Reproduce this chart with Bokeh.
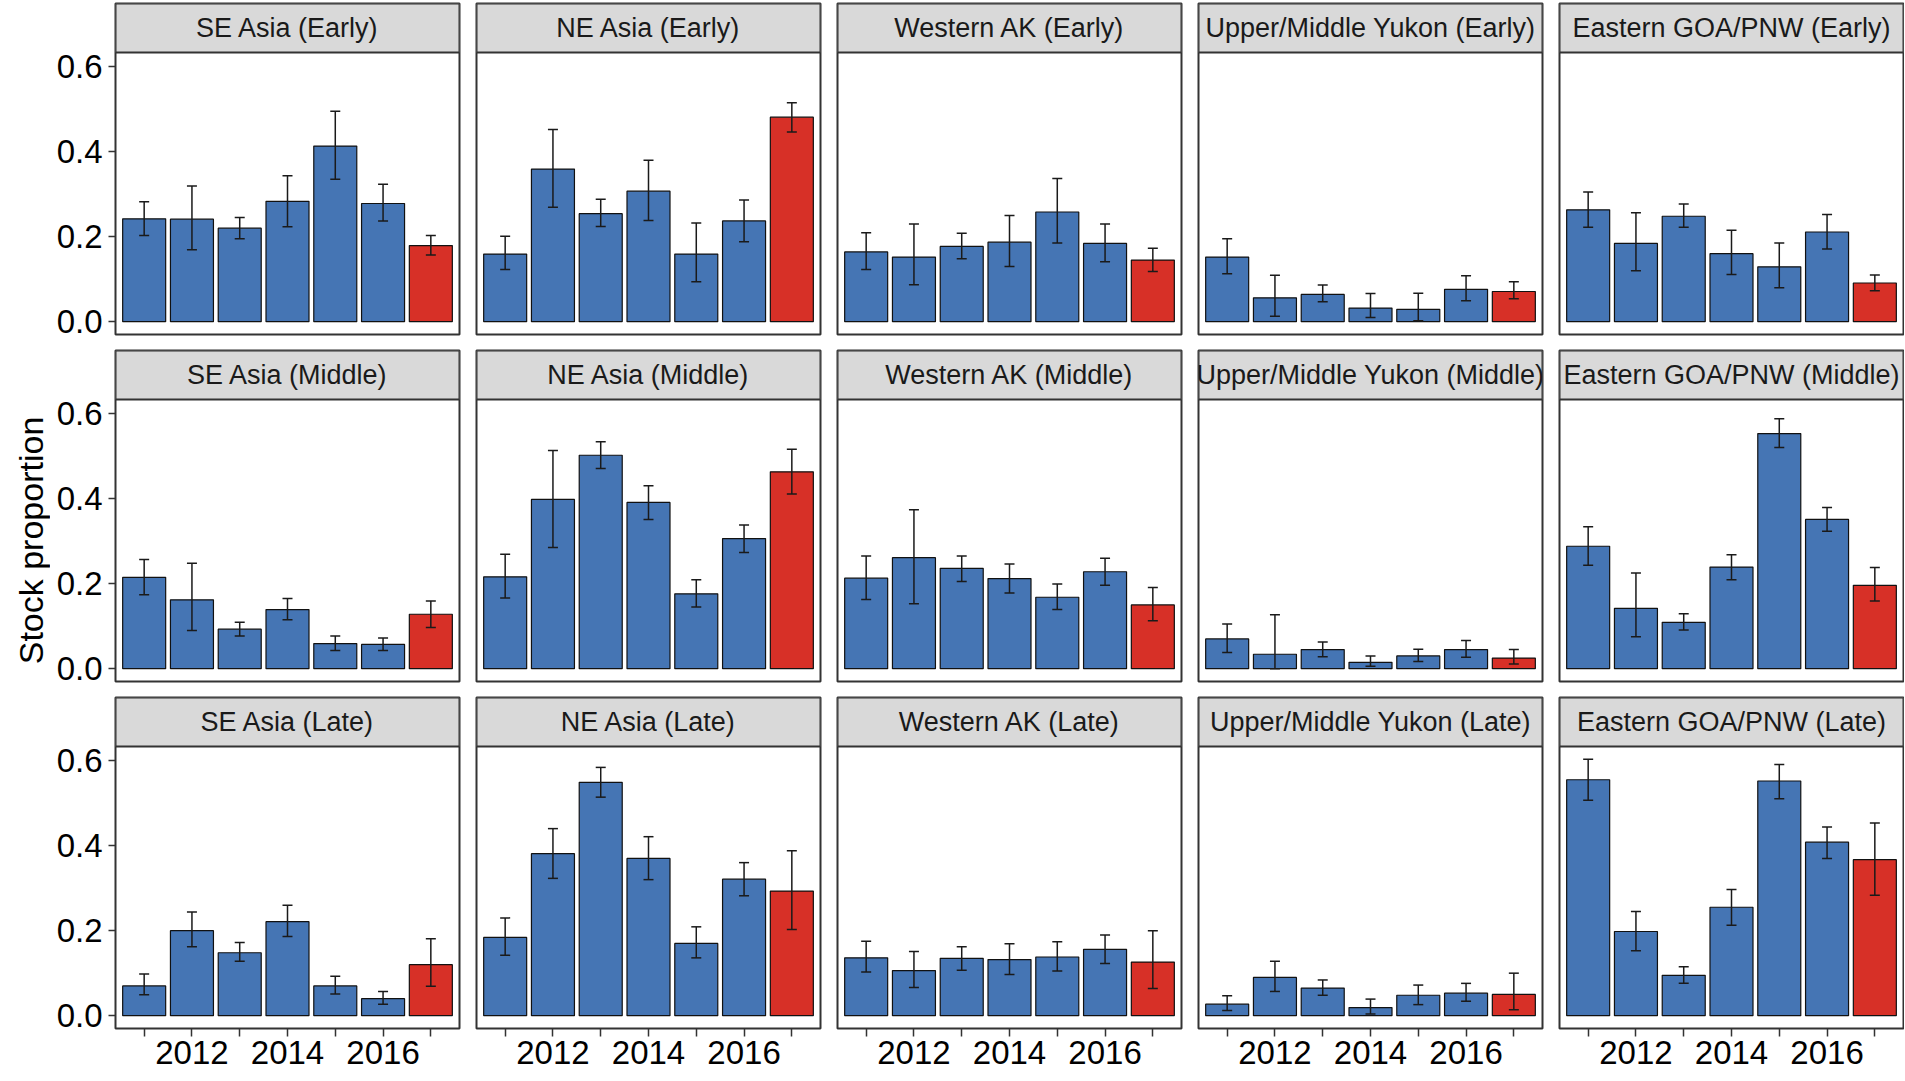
from math import pi
from bokeh.plotting import figure
from bokeh.layouts import row, column
from bokeh.models import (Range1d, FixedTicker, PrintfTickFormatter, BoxAnnotation, Label,
                          ColumnDataSource, Whisker, TeeHead)
from bokeh.embed import file_html
from bokeh.resources import INLINE

# ---------------- data ----------------
years = [2011, 2012, 2013, 2014, 2015, 2016, 2017]
highlight_year = 2017
regions = ["SE Asia", "NE Asia", "Western AK", "Upper/Middle Yukon", "Eastern GOA/PNW"]
periods = ["Early", "Middle", "Late"]
y_ticks = [0.0, 0.2, 0.4, 0.6]
x_major_ticks = [2012, 2014, 2016]
x_minor_ticks = [2011, 2013, 2015, 2017]
y_title = "Stock proportion"

se_asia_early_est = [0.242, 0.241, 0.220, 0.283, 0.413, 0.278, 0.179]
se_asia_early_lo = [0.203, 0.169, 0.195, 0.223, 0.335, 0.237, 0.157]
se_asia_early_hi = [0.282, 0.319, 0.245, 0.343, 0.495, 0.323, 0.203]
ne_asia_early_est = [0.159, 0.359, 0.254, 0.307, 0.159, 0.237, 0.481]
ne_asia_early_lo = [0.123, 0.269, 0.224, 0.238, 0.094, 0.188, 0.446]
ne_asia_early_hi = [0.201, 0.452, 0.288, 0.380, 0.232, 0.286, 0.515]
western_ak_early_est = [0.164, 0.152, 0.177, 0.187, 0.258, 0.184, 0.145]
western_ak_early_lo = [0.123, 0.087, 0.148, 0.130, 0.185, 0.141, 0.118]
western_ak_early_hi = [0.209, 0.230, 0.208, 0.250, 0.337, 0.230, 0.173]
yukon_early_est = [0.152, 0.056, 0.064, 0.032, 0.029, 0.076, 0.071]
yukon_early_lo = [0.113, 0.013, 0.047, 0.010, 0.002, 0.049, 0.054]
yukon_early_hi = [0.195, 0.109, 0.086, 0.066, 0.067, 0.108, 0.094]
goa_early_est = [0.263, 0.184, 0.248, 0.160, 0.129, 0.211, 0.091]
goa_early_lo = [0.222, 0.120, 0.222, 0.111, 0.080, 0.171, 0.073]
goa_early_hi = [0.305, 0.256, 0.277, 0.215, 0.185, 0.252, 0.110]

se_asia_middle_est = [0.215, 0.162, 0.093, 0.139, 0.059, 0.057, 0.128]
se_asia_middle_lo = [0.174, 0.090, 0.077, 0.115, 0.043, 0.043, 0.097]
se_asia_middle_hi = [0.257, 0.248, 0.109, 0.165, 0.077, 0.072, 0.159]
ne_asia_middle_est = [0.216, 0.398, 0.502, 0.391, 0.176, 0.306, 0.463]
ne_asia_middle_lo = [0.166, 0.285, 0.471, 0.351, 0.145, 0.273, 0.411]
ne_asia_middle_hi = [0.269, 0.513, 0.534, 0.430, 0.209, 0.338, 0.516]
western_ak_middle_est = [0.213, 0.261, 0.236, 0.212, 0.168, 0.228, 0.150]
western_ak_middle_lo = [0.163, 0.153, 0.205, 0.178, 0.139, 0.196, 0.113]
western_ak_middle_hi = [0.265, 0.374, 0.265, 0.246, 0.199, 0.260, 0.191]
yukon_middle_est = [0.070, 0.034, 0.045, 0.015, 0.030, 0.045, 0.025]
yukon_middle_lo = [0.038, 0.000, 0.028, 0.006, 0.017, 0.027, 0.011]
yukon_middle_hi = [0.105, 0.127, 0.063, 0.030, 0.046, 0.066, 0.045]
goa_middle_est = [0.288, 0.142, 0.109, 0.239, 0.553, 0.351, 0.196]
goa_middle_lo = [0.243, 0.075, 0.091, 0.209, 0.520, 0.323, 0.159]
goa_middle_hi = [0.334, 0.225, 0.129, 0.268, 0.588, 0.379, 0.238]

se_asia_late_est = [0.070, 0.200, 0.148, 0.221, 0.070, 0.040, 0.120]
se_asia_late_lo = [0.049, 0.162, 0.128, 0.186, 0.051, 0.027, 0.069]
se_asia_late_hi = [0.098, 0.244, 0.172, 0.260, 0.093, 0.057, 0.181]
ne_asia_late_est = [0.184, 0.381, 0.549, 0.370, 0.170, 0.321, 0.293]
ne_asia_late_lo = [0.142, 0.323, 0.514, 0.320, 0.136, 0.282, 0.203]
ne_asia_late_hi = [0.230, 0.440, 0.584, 0.421, 0.209, 0.360, 0.388]
western_ak_late_est = [0.136, 0.106, 0.135, 0.132, 0.138, 0.156, 0.126]
western_ak_late_lo = [0.103, 0.066, 0.107, 0.097, 0.105, 0.123, 0.064]
western_ak_late_hi = [0.175, 0.151, 0.162, 0.169, 0.174, 0.190, 0.200]
yukon_late_est = [0.027, 0.090, 0.065, 0.019, 0.048, 0.053, 0.050]
yukon_late_lo = [0.012, 0.057, 0.048, 0.004, 0.026, 0.034, 0.014]
yukon_late_hi = [0.047, 0.128, 0.084, 0.039, 0.072, 0.076, 0.100]
goa_late_est = [0.555, 0.198, 0.095, 0.255, 0.552, 0.408, 0.367]
goa_late_lo = [0.507, 0.153, 0.076, 0.213, 0.510, 0.370, 0.283]
goa_late_hi = [0.603, 0.245, 0.115, 0.297, 0.591, 0.444, 0.453]

panels = {
    ("SE Asia", "Early"): (se_asia_early_est, se_asia_early_lo, se_asia_early_hi),
    ("NE Asia", "Early"): (ne_asia_early_est, ne_asia_early_lo, ne_asia_early_hi),
    ("Western AK", "Early"): (western_ak_early_est, western_ak_early_lo, western_ak_early_hi),
    ("Upper/Middle Yukon", "Early"): (yukon_early_est, yukon_early_lo, yukon_early_hi),
    ("Eastern GOA/PNW", "Early"): (goa_early_est, goa_early_lo, goa_early_hi),
    ("SE Asia", "Middle"): (se_asia_middle_est, se_asia_middle_lo, se_asia_middle_hi),
    ("NE Asia", "Middle"): (ne_asia_middle_est, ne_asia_middle_lo, ne_asia_middle_hi),
    ("Western AK", "Middle"): (western_ak_middle_est, western_ak_middle_lo, western_ak_middle_hi),
    ("Upper/Middle Yukon", "Middle"): (yukon_middle_est, yukon_middle_lo, yukon_middle_hi),
    ("Eastern GOA/PNW", "Middle"): (goa_middle_est, goa_middle_lo, goa_middle_hi),
    ("SE Asia", "Late"): (se_asia_late_est, se_asia_late_lo, se_asia_late_hi),
    ("NE Asia", "Late"): (ne_asia_late_est, ne_asia_late_lo, ne_asia_late_hi),
    ("Western AK", "Late"): (western_ak_late_est, western_ak_late_lo, western_ak_late_hi),
    ("Upper/Middle Yukon", "Late"): (yukon_late_est, yukon_late_lo, yukon_late_hi),
    ("Eastern GOA/PNW", "Late"): (goa_late_est, goa_late_lo, goa_late_hi),
}

# ---------------- styling / layout ----------------
BLUE = "#4575B4"
RED = "#D73027"
FONT = "Liberation Sans"
BORDER = "#333333"
LABEL_W = 50
LEFT_AXIS = 65
GAP_L = 15
RIGHT = 2
PANEL_W = 344
STRIP = 49
PLOT = 282
FRAME_H = STRIP + PLOT
TOP_FIRST = 3
TOP_B = 4
BOT_B = 12
BOTTOM_AXIS = 51

ymax_data = max(max(v[2]) for v in panels.values())
YLO = -0.05 * ymax_data
YHI = ymax_data * 1.05
YTOP = YHI + (YHI - YLO) * STRIP / PLOT
XLO, XHI = years[0] - 0.6, years[-1] + 0.6

nrow, ncol = len(periods), len(regions)
rows = []
for r, period in enumerate(periods):
    figs = []
    for c, region in enumerate(regions):
        est, lo, hi = panels[(region, period)]
        left_b = LEFT_AXIS if c == 0 else GAP_L
        right_b = 1 if c == ncol - 1 else RIGHT
        top_b = TOP_FIRST if r == 0 else TOP_B
        bot_b = BOTTOM_AXIS if r == nrow - 1 else BOT_B
        p = figure(
            width=left_b + PANEL_W + right_b, height=top_b + FRAME_H + bot_b,
            x_range=Range1d(XLO, XHI), y_range=Range1d(YLO, YTOP),
            output_backend="svg", toolbar_location=None, title=None,
            x_axis_location="below" if r == nrow - 1 else None,
            y_axis_location="left" if c == 0 else None,
            min_border_left=left_b, min_border_right=right_b,
            min_border_top=top_b, min_border_bottom=bot_b,
            background_fill_color="white", border_fill_color="white",
        )
        p.outline_line_color = BORDER
        p.outline_line_width = 2
        p.xgrid.visible = False
        p.ygrid.visible = False

        colors = [RED if y == highlight_year else BLUE for y in years]
        src = ColumnDataSource(dict(x=years, top=est, lo=lo, hi=hi, color=colors))
        p.vbar(x="x", top="top", bottom=0, width=0.9, source=src,
               fill_color="color", line_color="#111111", line_width=1.2)
        wk = Whisker(source=src, base="x", upper="hi", lower="lo", dimension="height",
                     line_color="#1A1A1A", line_width=1.5, level="annotation",
                     upper_head=TeeHead(size=10, line_color="#1A1A1A", line_width=1.5),
                     lower_head=TeeHead(size=10, line_color="#1A1A1A", line_width=1.5))
        p.add_layout(wk)

        strip = BoxAnnotation(bottom=YHI, fill_color="#D9D9D9", fill_alpha=1.0,
                              line_color=BORDER, line_width=2, line_alpha=1.0)
        p.add_layout(strip)
        p.add_layout(Label(x=(XLO + XHI) / 2, y=(YHI + YTOP) / 2,
                           text=f"{region} ({period})", text_align="center",
                           text_baseline="middle", text_font=FONT,
                           text_font_size="27px", text_color="#1A1A1A"))

        if c == 0:
            ax = p.yaxis[0]
            ax.ticker = FixedTicker(ticks=y_ticks)
            ax.formatter = PrintfTickFormatter(format="%.1f")
            ax.axis_line_color = None
            ax.major_tick_line_color = BORDER
            ax.major_tick_line_width = 1.5
            ax.major_tick_out = 7
            ax.major_tick_in = 0
            ax.minor_tick_line_color = None
            ax.major_label_standoff = 6
            ax.major_label_text_font = FONT
            ax.major_label_text_font_size = "33px"
            ax.major_label_text_color = "black"
        if r == nrow - 1:
            ax = p.xaxis[0]
            ax.ticker = FixedTicker(ticks=x_major_ticks, minor_ticks=x_minor_ticks)
            ax.axis_line_color = None
            ax.major_tick_line_color = BORDER
            ax.major_tick_line_width = 1.5
            ax.major_tick_out = 8
            ax.major_tick_in = 0
            ax.minor_tick_line_color = BORDER
            ax.minor_tick_line_width = 1.5
            ax.minor_tick_out = 8
            ax.minor_tick_in = 0
            ax.major_label_standoff = 4
            ax.major_label_text_font = FONT
            ax.major_label_text_font_size = "33px"
            ax.major_label_text_color = "black"
        figs.append(p)
    rows.append(row(*figs, spacing=0))

grid = column(*rows, spacing=0)

total_h = (TOP_FIRST + FRAME_H + BOT_B) + (TOP_B + FRAME_H + BOT_B) + (TOP_B + FRAME_H + BOTTOM_AXIS)
plot_top = TOP_FIRST + STRIP
plot_bottom = total_h - BOTTOM_AXIS
lab = figure(width=LABEL_W, height=total_h, x_range=Range1d(0, LABEL_W),
             y_range=Range1d(total_h, 0), output_backend="svg", toolbar_location=None,
             title=None, x_axis_location=None, y_axis_location=None,
             min_border_left=0, min_border_right=0, min_border_top=0, min_border_bottom=0)
lab.outline_line_color = None
lab.xgrid.visible = False
lab.ygrid.visible = False
lab.add_layout(Label(x=30, y=(plot_top + plot_bottom) / 2, text=y_title, angle=pi / 2,
                     text_align="center", text_baseline="middle", text_font=FONT,
                     text_font_size="34px", text_color="black"))

layout = row(lab, grid, spacing=0)

open("out.html", "w").write(file_html(layout, INLINE))
